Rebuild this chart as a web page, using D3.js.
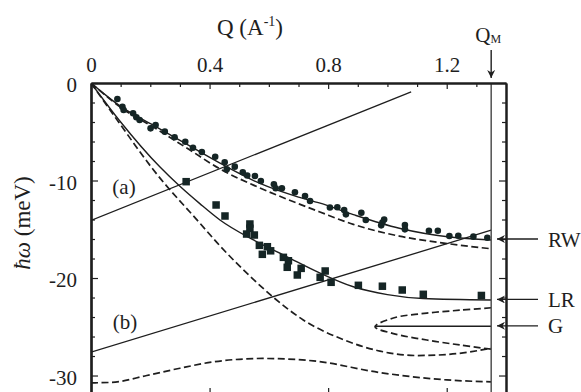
<!DOCTYPE html>
<html>
<head>
<meta charset="utf-8">
<script src="https://cdn.jsdelivr.net/npm/d3@7"></script>
<style>
  body { margin: 0; background: #fff; }
  svg { display: block; }
  svg text { font-family: "Liberation Serif", Tinos, "Times New Roman", Times, "DejaVu Serif", serif; fill: #1e1e1e; }
</style>
</head>
<body>
<svg id="chart" width="581" height="392" font-family="Liberation Serif, DejaVu Serif, serif"></svg>
<script>
// Axis ticks
const qTicks = [0, 0.4, 0.8, 1.2];
const qMinorTicks = [0.1, 0.2, 0.3, 0.5, 0.6, 0.7, 0.9, 1.0, 1.1, 1.3];
const eTicks = [0, -10, -20, -30];
const eMinorTicks = [-2, -4, -6, -8, -12, -14, -16, -18, -22, -24, -26, -28, -32];
const qM = 1.35;

// Measured excitations: Q (1/Å), energy (meV)
const rwPoints = [
  [0.089, -1.64], [0.106, -2.43], [0.110, -2.77], [0.142, -3.11], [0.153, -3.52],
  [0.164, -3.79], [0.201, -4.65], [0.218, -4.31], [0.249, -4.99], [0.282, -5.57],
  [0.318, -6.02], [0.344, -6.64], [0.374, -7.08], [0.419, -7.56], [0.451, -8.13],
  [0.458, -8.85], [0.485, -8.58], [0.512, -9.16], [0.527, -9.49], [0.553, -9.54],
  [0.573, -10.05], [0.617, -10.39], [0.623, -10.80], [0.644, -10.80], [0.688, -11.21],
  [0.722, -11.59], [0.739, -12.10], [0.806, -12.77], [0.831, -12.75], [0.854, -13.03],
  [0.860, -13.47], [0.912, -13.30], [0.927, -14.05], [0.979, -14.6], [0.983, -14.3],
  [0.989, -14.0], [1.059, -14.56], [1.059, -15.01], [1.140, -15.15], [1.170, -15.15],
  [1.209, -15.69], [1.239, -15.66], [1.290, -15.76], [1.337, -15.87]
];
const lrPoints = [
  [0.321, -10.12], [0.422, -12.51], [0.452, -13.64], [0.536, -14.46], [0.536, -14.90],
  [0.525, -15.49], [0.551, -15.59], [0.568, -16.65], [0.595, -16.79], [0.578, -17.57],
  [0.606, -17.21], [0.649, -17.88], [0.666, -18.23], [0.662, -18.90], [0.709, -19.01],
  [0.696, -19.69], [0.773, -19.93], [0.790, -19.28], [0.810, -20.44], [0.902, -20.75],
  [0.983, -20.84], [1.050, -21.23], [1.121, -21.67], [1.317, -21.79]
];

// Calculated dispersion branches
const rwSolid = [[0, 0], [0.10, -2.4], [0.22, -4.5], [0.33, -6.4], [0.44, -8.3], [0.57, -10.3],
  [0.70, -11.7], [0.77, -12.3], [0.885, -13.5], [1.04, -14.9], [1.21, -15.8], [1.35, -16.1]];
const rwDashed = [[0, 0], [0.10, -2.5], [0.22, -4.7], [0.33, -6.8], [0.44, -8.9], [0.55, -10.5],
  [0.66, -11.9], [0.77, -13.2], [0.885, -14.5], [1.04, -15.7], [1.21, -16.5], [1.35, -17.0]];
const lrSolid = [[0, 0], [0.10, -4.0], [0.232, -8.6], [0.30, -10.6], [0.368, -12.4], [0.435, -14.05],
  [0.548, -16.1], [0.66, -17.8], [0.773, -19.5], [0.885, -20.9], [1.0, -21.7], [1.12, -22.1], [1.35, -22.25]];
const steepDashed = [[0, 0], [0.10, -4.3], [0.209, -8.85], [0.368, -14.4], [0.435, -16.7],
  [0.536, -19.8], [0.62, -22.1], [0.716, -24.3], [0.85, -26.3], [0.975, -27.5], [1.1, -27.95],
  [1.2, -27.85], [1.35, -27.2]];
const forkDashed = [[1.35, -23.05], [1.245, -23.3], [1.133, -23.6], [1.02, -24.1], [0.958, -25.0],
  [1.02, -25.7], [1.133, -26.36], [1.245, -26.87], [1.35, -27.3]];
const gSolid = [[0.958, -24.95], [1.35, -24.95]];
const bottomDashed = [[0, -30.75], [0.07, -30.7], [0.188, -30.0], [0.30, -29.25], [0.413, -28.6],
  [0.581, -28.25], [0.75, -28.5], [0.975, -29.7], [1.2, -30.45], [1.35, -30.65]];
const lineA = [[0, -14.1], [1.08, -0.9]];
const lineB = [[0, -27.6], [1.35, -15.1]];

const modes = [
  { label: "RW", e: -16.0 },
  { label: "LR", e: -22.2 },
  { label: "G", e: -24.9 }
];

const serif = '"Liberation Serif", Tinos, "Times New Roman", Times, "DejaVu Serif", serif';
const svg = d3.select("#chart");
const x = d3.scaleLinear([0, 1.4], [91, 506]);
const y = d3.scaleLinear([-32.1, 0], [396, 83]);
const ink = "#1e1e1e";
const dotInk = "#152525";

// arrowhead marker
svg.append("defs").append("marker")
  .attr("id", "head").attr("viewBox", "0 0 10 10")
  .attr("refX", 10).attr("refY", 5)
  .attr("markerWidth", 10).attr("markerHeight", 8)
  .attr("markerUnits", "userSpaceOnUse")
  .attr("orient", "auto")
  .append("path").attr("d", "M0,0L10,5L0,10L3,5Z").attr("fill", ink);

const plot = svg.append("g");
plot.append("clipPath").attr("id", "clip")
  .append("rect").attr("x", x(0)).attr("y", y(0)).attr("width", x(qM) - x(0)).attr("height", y(-32.1) - y(0));

const smooth = d3.line().x(d => x(d[0])).y(d => y(d[1])).curve(d3.curveMonotoneX);
const loop = d3.line().x(d => x(d[0])).y(d => y(d[1])).curve(d3.curveCatmullRom.alpha(0.5));
const straight = d3.line().x(d => x(d[0])).y(d => y(d[1]));

const curves = plot.append("g").attr("clip-path", "url(#clip)").attr("fill", "none").attr("stroke", ink);
const dash = "7,3.5";
curves.append("path").attr("d", smooth(rwDashed)).attr("stroke-width", 1.7).attr("stroke-dasharray", dash);
curves.append("path").attr("d", smooth(steepDashed)).attr("stroke-width", 1.7).attr("stroke-dasharray", dash);
curves.append("path").attr("d", loop(forkDashed)).attr("stroke-width", 1.7).attr("stroke-dasharray", dash);
curves.append("path").attr("d", smooth(bottomDashed)).attr("stroke-width", 1.7).attr("stroke-dasharray", dash);
curves.append("path").attr("d", smooth(rwSolid)).attr("stroke-width", 1.4);
curves.append("path").attr("d", smooth(lrSolid)).attr("stroke-width", 1.4);
curves.append("path").attr("d", straight(gSolid)).attr("stroke-width", 1.4);
curves.append("path").attr("d", straight(lineA)).attr("stroke-width", 1.3);
curves.append("path").attr("d", straight(lineB)).attr("stroke-width", 1.3);

// data points
plot.append("g").selectAll("circle").data(rwPoints).join("circle")
  .attr("cx", d => x(d[0])).attr("cy", d => y(d[1])).attr("r", 3.3).attr("fill", dotInk);
const sq = 7.5;
plot.append("g").selectAll("rect").data(lrPoints).join("rect")
  .attr("x", d => x(d[0]) - sq / 2).attr("y", d => y(d[1]) - sq / 2)
  .attr("width", sq).attr("height", sq).attr("fill", dotInk);

// Q_M boundary
svg.append("line").attr("x1", x(qM)).attr("x2", x(qM)).attr("y1", y(0)).attr("y2", 396)
  .attr("stroke", "#444").attr("stroke-width", 1.4);

// axes
function styleAxis(g, w) {
  g.attr("font-family", serif);
  g.select(".domain").attr("stroke", ink).attr("stroke-width", w);
  g.selectAll(".tick line").attr("stroke", ink).attr("stroke-width", 1.2);
  g.selectAll("text").attr("font-size", 21).attr("fill", ink).style("font-family", serif);
}
const fmt = d => d === 0 ? "0" : d3.format(".1f")(d);

svg.append("g").attr("transform", `translate(0,${y(0)})`)
  .call(d3.axisTop(x).tickValues(qMinorTicks).tickSize(-4).tickSizeOuter(0).tickFormat(""))
  .call(g => styleAxis(g, 2));
svg.append("g").attr("transform", `translate(0,${y(0)})`)
  .call(d3.axisTop(x).tickValues(qTicks).tickSize(-6).tickSizeOuter(0).tickPadding(11).tickFormat(fmt))
  .call(g => styleAxis(g, 2));

svg.append("g").attr("transform", `translate(0,396)`)
  .call(d3.axisBottom(x).tickValues(qTicks.slice(1)).tickSize(-8).tickSizeOuter(0).tickFormat(""))
  .call(g => styleAxis(g, 2));

svg.append("g").attr("transform", `translate(${x(0)},0)`)
  .call(d3.axisLeft(y).tickValues(eMinorTicks).tickSize(-4).tickSizeOuter(0).tickFormat(""))
  .call(g => styleAxis(g, 2.2));
svg.append("g").attr("transform", `translate(${x(0)},0)`)
  .call(d3.axisLeft(y).tickValues(eTicks).tickSize(-7).tickSizeOuter(0).tickPadding(14).tickFormat(d => String(d)))
  .call(g => styleAxis(g, 2.2))
  .call(g => g.selectAll("text").attr("dy", "0.42em"));

svg.append("g").attr("transform", `translate(${x(1.4)},0)`)
  .call(d3.axisRight(y).tickValues(eMinorTicks).tickSize(-4).tickSizeOuter(0).tickFormat(""))
  .call(g => styleAxis(g, 2));
svg.append("g").attr("transform", `translate(${x(1.4)},0)`)
  .call(d3.axisRight(y).tickValues(eTicks.slice(1)).tickSize(-7).tickSizeOuter(0).tickFormat(""))
  .call(g => styleAxis(g, 2));

// titles
const qTitle = svg.append("text").attr("x", 250).attr("y", 35).attr("text-anchor", "middle")
  .attr("font-size", 23).style("font-family", serif);
qTitle.append("tspan").text("Q (A");
qTitle.append("tspan").attr("font-size", 14).attr("dy", -9).text("-1");
qTitle.append("tspan").attr("dy", 9).text(")");

const eTitle = svg.append("text").attr("transform", "translate(30,223) rotate(-90)")
  .attr("text-anchor", "middle").attr("font-size", 23).style("font-family", serif);
eTitle.append("tspan").attr("font-style", "italic").text("ħω");
eTitle.append("tspan").text(" (meV)");

// Q_M marker
const qmText = svg.append("text").attr("x", x(qM) - 3).attr("y", 42).attr("text-anchor", "middle")
  .attr("font-size", 21).style("font-family", serif);
qmText.append("tspan").text("Q");
qmText.append("tspan").attr("font-size", 12).attr("dy", 1).text("M");
svg.append("line").attr("x1", x(qM)).attr("x2", x(qM)).attr("y1", 50).attr("y2", 78)
  .attr("stroke", ink).attr("stroke-width", 1.4).attr("marker-end", "url(#head)");

// branch labels
svg.append("text").attr("x", 124).attr("y", 194).attr("text-anchor", "middle").attr("font-size", 21)
  .style("font-family", serif).text("(a)");
svg.append("text").attr("x", 125).attr("y", 329).attr("text-anchor", "middle").attr("font-size", 21)
  .style("font-family", serif).text("(b)");

const modeG = svg.append("g").selectAll("g").data(modes).join("g");
modeG.append("line").attr("x1", 538).attr("x2", 497)
  .attr("y1", d => y(d.e)).attr("y2", d => y(d.e))
  .attr("stroke", ink).attr("stroke-width", 1.3).attr("marker-end", "url(#head)");
modeG.append("text").attr("x", 548).attr("y", d => y(d.e) + 7.5).attr("font-size", 21)
  .style("font-family", serif).text(d => d.label);
</script>
</body>
</html>
